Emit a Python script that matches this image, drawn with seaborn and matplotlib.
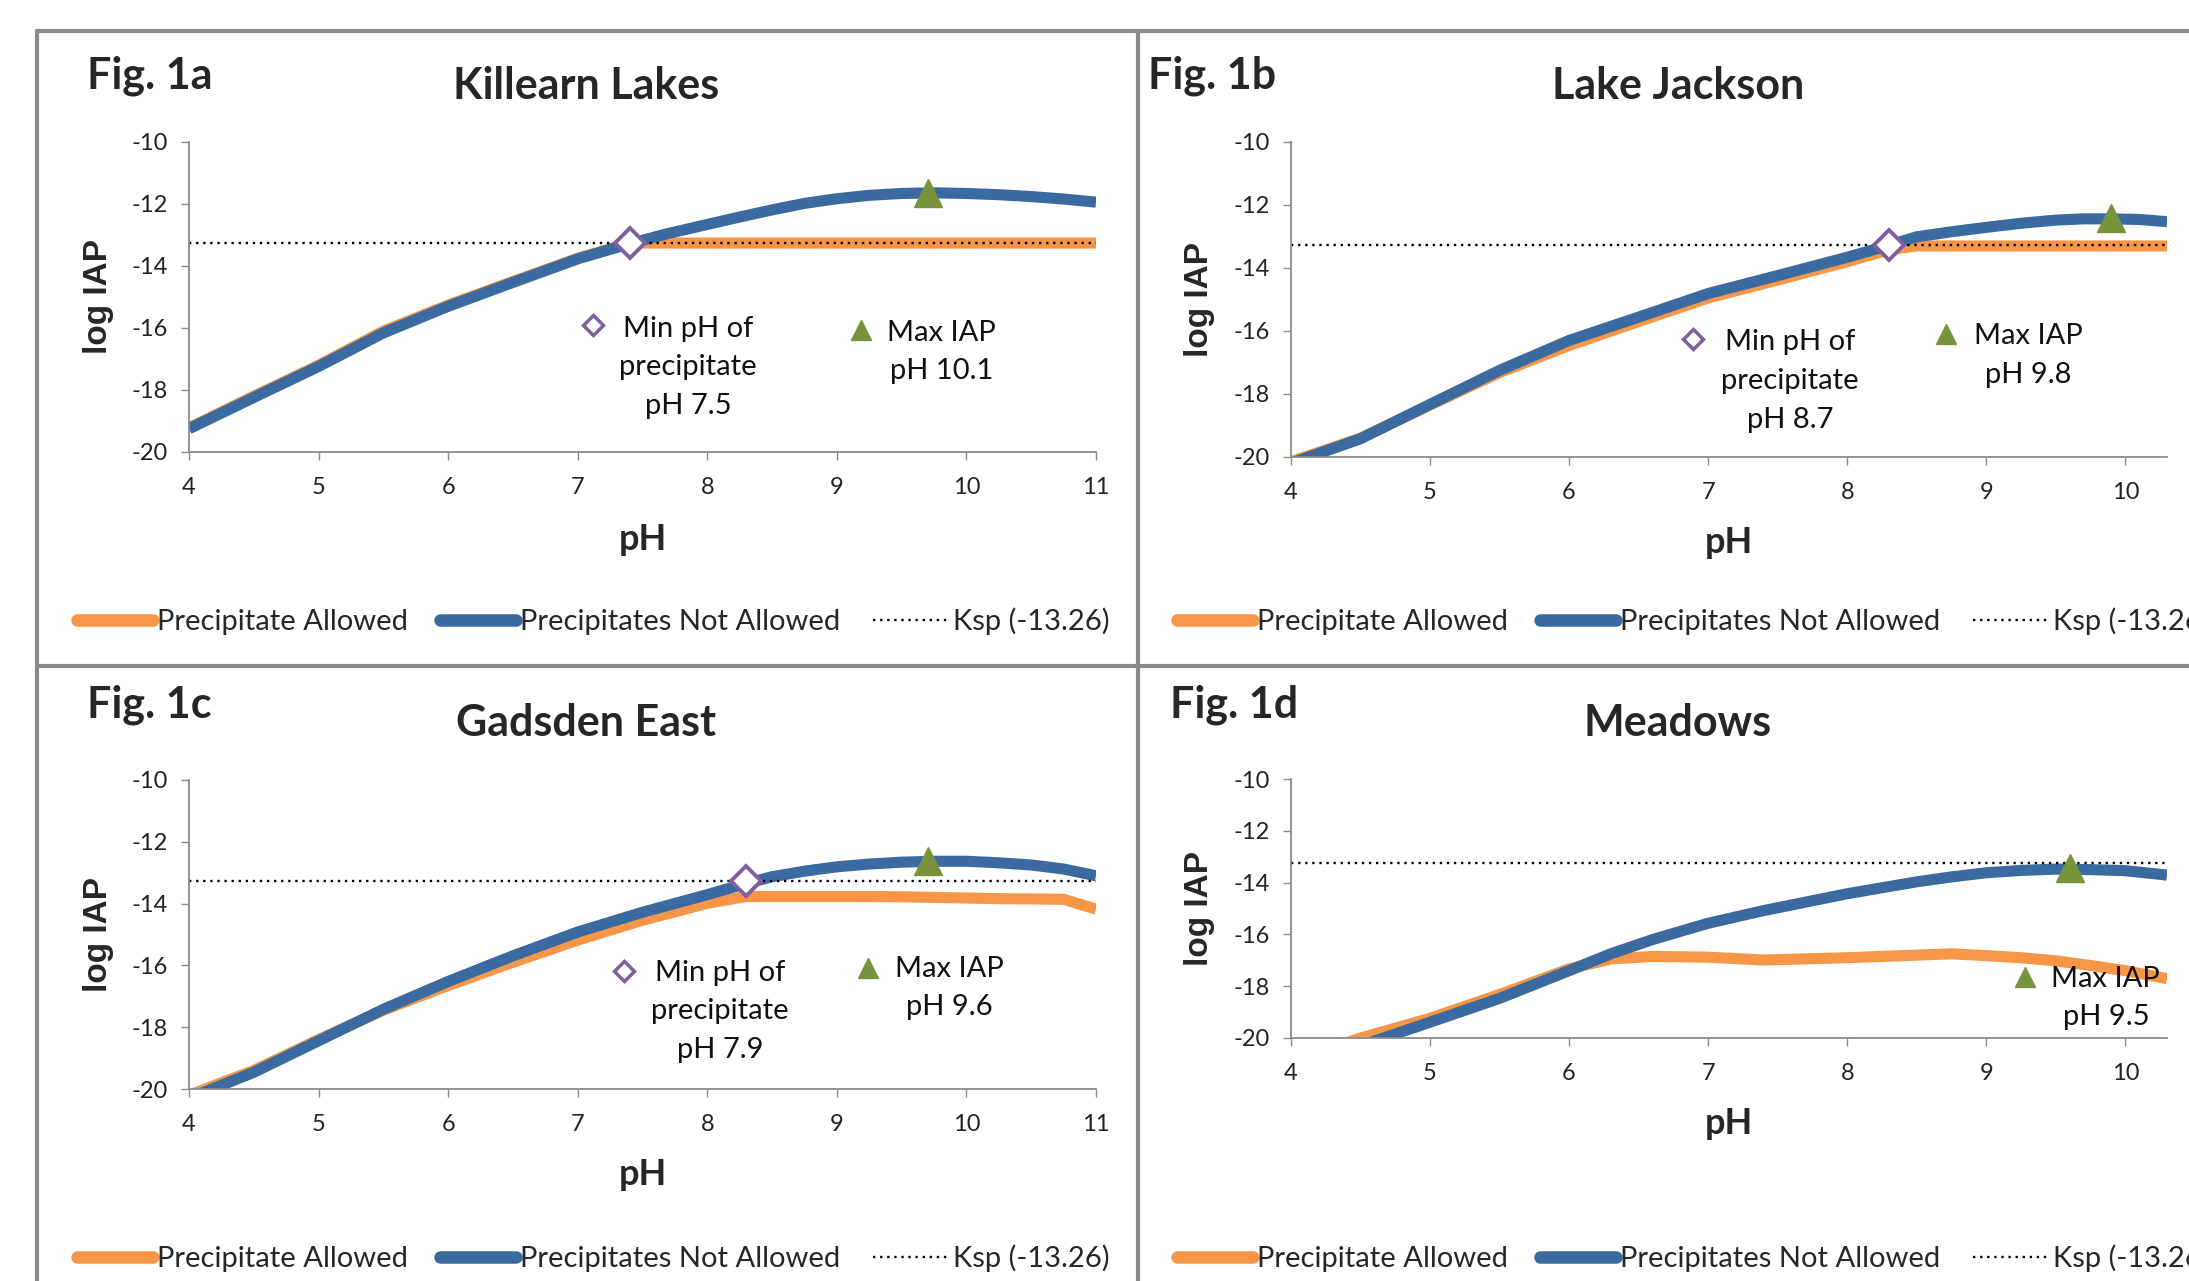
import matplotlib
matplotlib.use('Agg')
import matplotlib.pyplot as plt
from matplotlib.lines import Line2D
import seaborn as sns

# Ksp reference level (dotted line)
ksp = -13.26
ksp_x = [4, 11]

# Fig. 1a Killearn Lakes
ph_a = [4, 4.5, 5, 5.5, 6, 6.5, 7, 7.4, 7.7, 8, 8.25, 8.5, 8.75, 9, 9.25, 9.5, 9.75,
        10, 10.25, 10.5, 10.75, 11]
allowed_a = [-19.22, -18.2, -17.2, -16.1, -15.26, -14.5, -13.75, -13.26, -13.26, -13.26,
             -13.26, -13.26, -13.26, -13.26, -13.26, -13.26, -13.26, -13.26, -13.26,
             -13.26, -13.26, -13.26]
not_allowed_a = [-19.25, -18.24, -17.24, -16.16, -15.3, -14.53, -13.77, -13.28, -12.95,
                 -12.66, -12.42, -12.19, -11.98, -11.83, -11.72, -11.66, -11.64, -11.66,
                 -11.7, -11.76, -11.84, -11.94]

# Fig. 1b Lake Jackson
ph_b = [4, 4.5, 5, 5.5, 6, 6.5, 7, 7.5, 8, 8.3, 8.5, 8.75, 9, 9.25, 9.5, 9.7, 9.9,
        10.1, 10.3]
allowed_b = [-20.15, -19.4, -18.35, -17.32, -16.46, -15.7, -14.95, -14.38, -13.8, -13.42,
             -13.3, -13.3, -13.3, -13.3, -13.3, -13.3, -13.3, -13.3, -13.3]
not_allowed_b = [-20.2, -19.42, -18.33, -17.25, -16.3, -15.56, -14.81, -14.24, -13.66,
                 -13.28, -13.01, -12.85, -12.71, -12.58, -12.48, -12.44, -12.44, -12.46,
                 -12.53]

# Fig. 1c Gadsden East
ph_c = [4, 4.5, 5, 5.5, 6, 6.5, 7, 7.5, 8, 8.3, 8.5, 8.75, 9, 9.25, 9.5, 9.75, 10,
        10.25, 10.5, 10.75, 11]
allowed_c = [-20.2, -19.4, -18.4, -17.45, -16.65, -15.9, -15.18, -14.54, -13.99, -13.77,
             -13.77, -13.77, -13.77, -13.77, -13.78, -13.8, -13.82, -13.84, -13.85,
             -13.86, -14.18]
not_allowed_c = [-20.3, -19.46, -18.44, -17.42, -16.52, -15.69, -14.92, -14.28, -13.71,
                 -13.35, -13.13, -12.95, -12.81, -12.72, -12.66, -12.63, -12.63, -12.68,
                 -12.75, -12.88, -13.1]

# Fig. 1d Meadows
ph_d = [4, 4.5, 5, 5.5, 6, 6.3, 6.6, 7, 7.4, 8, 8.5, 8.75, 9, 9.25, 9.5, 9.75, 10, 10.3]
allowed_d = [-20.9, -20.0, -19.24, -18.32, -17.33, -16.95, -16.85, -16.88, -16.99, -16.9,
             -16.8, -16.75, -16.82, -16.9, -17.02, -17.2, -17.4, -17.71]
not_allowed_d = [-21.2, -20.3, -19.39, -18.47, -17.4, -16.75, -16.2, -15.57, -15.08,
                 -14.43, -13.97, -13.78, -13.62, -13.53, -13.48, -13.5, -13.54, -13.71]

# highlighted points: min pH of precipitate (diamond) and max IAP (triangle)
min_pt = [(7.4, -13.26), (8.3, -13.26), (8.3, -13.26), None]
max_pt = [(9.7, -11.65), (9.9, -12.42), (9.7, -12.62), (9.6, -13.45)]

# in-plot labels for those points (key marker x, y, text x, first line y)
min_text = ['Min pH of\nprecipitate\npH 7.5', 'Min pH of\nprecipitate\npH 8.7',
            'Min pH of\nprecipitate\npH 7.9', None]
max_text = ['Max IAP\npH 10.1', 'Max IAP\npH 9.8', 'Max IAP\npH 9.6', 'Max IAP\npH 9.5']
min_key = [(7.12, -15.91, 7.85, -15.96), (6.89, -16.26, 7.59, -16.3),
           (7.36, -16.18, 8.10, -16.18), None]
max_key = [(9.19, -16.05, 9.81, -16.09), (8.71, -16.1, 9.30, -16.1),
           (9.24, -16.07, 9.87, -16.05), (9.28, -17.63, 9.86, -17.63)]

fig_tags = ['Fig. 1a', 'Fig. 1b', 'Fig. 1c', 'Fig. 1d']
titles = ['Killearn Lakes', 'Lake Jackson', 'Gadsden East', 'Meadows']
x_max = [11, 10.3, 11, 10.3]

series_ph = [ph_a, ph_b, ph_c, ph_d]
series_allowed = [allowed_a, allowed_b, allowed_c, allowed_d]
series_not = [not_allowed_a, not_allowed_b, not_allowed_c, not_allowed_d]

ORANGE = '#F79646'
BLUE = '#3A6AA0'
GREEN = '#77933C'
PURPLE = '#7E60A0'
GRAY = '#8A8A8A'

sns.set_style('white')
plt.rcParams['font.family'] = ['Lato', 'DejaVu Sans']
plt.rcParams['axes.unicode_minus'] = False

W, H = 2189, 1281
fig = plt.figure(figsize=(W / 100, H / 100), dpi=100)

# axes boxes in pixels: left, top, right, bottom
boxes = [(189, 142, 1096, 452), (1291, 142, 2167, 457),
         (189, 780, 1096, 1089), (1291, 779, 2167, 1038)]
tag_pos = [(87, 76), (1148, 76), (87, 705), (1170, 705)]
title_pos = [(586, 86), (1678, 86), (586, 723), (1678, 723)]
xlab_y = [-0.281, -0.273, -0.278, -0.332]
ylab_x = [-0.100, -0.105, -0.100, -0.105]
legend_pos = [(77, 621), (1177, 621), (77, 1258), (1177, 1258)]


def key_label(ax, key, text, marker, ms, face, edge, mew):
    mx, my, tx, ty = key
    ax.plot(mx, my, marker=marker, ms=ms, mfc=face, mec=edge, mew=mew,
            linestyle='none', clip_on=False)
    ax.annotate(text, xy=(tx, ty), xytext=(0, 8), textcoords='offset points',
                ha='center', va='top', fontsize=21, linespacing=1.6, color='#111111')


for i in range(4):
    l, t, r, b = boxes[i]
    ax = fig.add_axes([l / W, 1 - b / H, (r - l) / W, (b - t) / H])

    sns.lineplot(x=series_ph[i], y=series_allowed[i], ax=ax, color=ORANGE,
                 linewidth=8, estimator=None, sort=False, solid_capstyle='butt',
                 solid_joinstyle='round')
    sns.lineplot(x=series_ph[i], y=series_not[i], ax=ax, color=BLUE,
                 linewidth=8, estimator=None, sort=False, solid_capstyle='butt',
                 solid_joinstyle='round')
    sns.lineplot(x=ksp_x, y=[ksp, ksp], ax=ax, color='black', linewidth=1.7,
                 linestyle=(0, (1, 2)), estimator=None, sort=False)

    if min_pt[i] is not None:
        ax.plot(*min_pt[i], marker='D', ms=15, mfc='white', mec=PURPLE, mew=2.8,
                linestyle='none', zorder=5)
    ax.plot(*max_pt[i], marker='^', ms=20, mfc=GREEN, mec=GREEN, linestyle='none',
            zorder=5)

    if min_key[i] is not None:
        key_label(ax, min_key[i], min_text[i], 'D', 10.5, 'white', PURPLE, 2.5)
    key_label(ax, max_key[i], max_text[i], '^', 14, GREEN, GREEN, 1)

    ax.set_xlim(4, x_max[i])
    ax.set_ylim(-20, -10)
    ax.set_xticks(range(4, int(x_max[i]) + 1))
    ax.set_yticks(range(-20, -9, 2))
    sns.despine(ax=ax)
    for s in ['left', 'bottom']:
        ax.spines[s].set_color(GRAY)
        ax.spines[s].set_linewidth(1.3)
    ax.tick_params(axis='both', direction='out', length=6, width=1, color=GRAY,
                   labelsize=17, labelcolor='#222222', bottom=True, left=True)
    ax.tick_params(axis='x', pad=12)
    ax.tick_params(axis='y', pad=9)

    ax.set_xlabel('pH', fontsize=26, fontweight='bold', va='center')
    ax.xaxis.set_label_coords(0.5, xlab_y[i])
    ax.set_ylabel('log IAP', fontsize=24, fontweight='bold', va='center', ha='center',
                  family=['Liberation Sans', 'DejaVu Sans'])
    ax.yaxis.set_label_coords(ylab_x[i], 0.5)

    fig.text(tag_pos[i][0] / W, 1 - tag_pos[i][1] / H, fig_tags[i], fontsize=31,
             fontweight='bold', ha='left', va='center')
    fig.text(title_pos[i][0] / W, 1 - title_pos[i][1] / H, titles[i], fontsize=31,
             fontweight='bold', ha='center', va='center')

    handles = [Line2D([], [], color=ORANGE, lw=9, solid_capstyle='round'),
               Line2D([], [], color=BLUE, lw=9, solid_capstyle='round'),
               Line2D([], [], color='black', lw=1.7, linestyle=(0, (1, 2)))]
    labels = ['Precipitate Allowed', 'Precipitates Not Allowed', 'Ksp (-13.26)']
    ax.legend(handles, labels, loc='center left',
              bbox_to_anchor=(legend_pos[i][0] / W, 1 - legend_pos[i][1] / H),
              bbox_transform=fig.transFigure, ncol=3, frameon=False, fontsize=21,
              handlelength=2.6, handletextpad=0.15, columnspacing=1.1,
              borderpad=0, borderaxespad=0)

# panel frames
frame = dict(color=GRAY, lw=3, transform=fig.transFigure)
fig.add_artist(Line2D([37 / W, 1], [1 - 31 / H, 1 - 31 / H], **frame))
fig.add_artist(Line2D([37 / W, 37 / W], [0, 1 - 31 / H], **frame))
fig.add_artist(Line2D([1138 / W, 1138 / W], [0, 1 - 31 / H], **frame))
fig.add_artist(Line2D([37 / W, 1], [1 - 666 / H, 1 - 666 / H], **frame))

fig.savefig('out.png', dpi=100)
